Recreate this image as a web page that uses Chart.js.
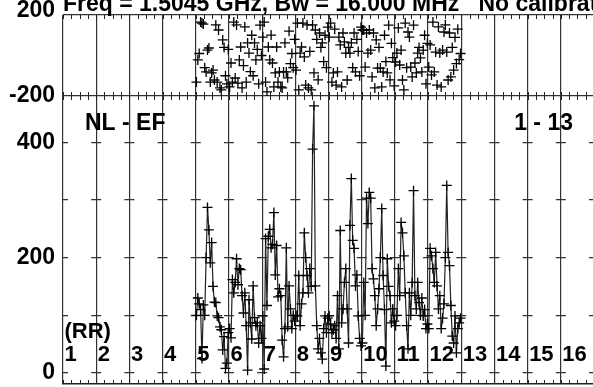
<!DOCTYPE html>
<html><head><meta charset="utf-8">
<script src="https://cdn.jsdelivr.net/npm/chart.js@4/dist/chart.umd.min.js"></script>
<style>
html,body{margin:0;padding:0;background:#fff;overflow:hidden;width:593px;height:387px}
#wrap{position:absolute;left:0;top:0;width:594px;height:387px}
</style></head>
<body><div id="wrap"><canvas id="c" width="594" height="387"></canvas></div>
<script>
// ---- data ----
const TITLE = 'Freq = 1.5045 GHz, Bw = 16.000 MHz   No calibration applied';
const BASELINE_LABEL = 'NL - EF';
const RANGE_LABEL = '1 - 13';
const POL_LABEL = '(RR)';
const IF_LABELS = ['1','2','3','4','5','6','7','8','9','10','11','12','13','14','15','16'];
const FIRST_IF = 5;
const CHANNELS = 24;
const MINOR_PER_IF = 4;
const AMP_TICKS = [0, 100, 200, 300, 400];
const AMP_LABELED = [0, 200, 400];
const PHASE_TICKS = [-200, 0, 200];

const ampIF5  = [100,130,120,110,25,118,100,200,287,248,191,226,150,123,122,99,96,80,75,40,63,8,17,70];
const ampIF6  = [77,61,162,139,157,198,153,181,179,134,104,139,82,5,127,87,59,151,96,82,87,52,82,60];
const ampIF7  = [99,7,233,117,237,249,217,223,278,170,221,132,146,134,57,28,77,217,80,151,111,77,100,90];
const ampIF8  = [100,99,169,82,120,139,243,200,169,139,181,150,388,463,151,82,42,60,35,24,77,99,70,95];
const ampIF9  = [99,85,70,75,82,60,134,42,247,87,111,157,181,111,52,256,337,230,216,151,170,99,60,47];
const ampIF10 = [52,157,100,303,259,313,303,181,163,134,82,111,146,200,285,169,110,12,198,150,134,87,111,90];
const ampIF11 = [82,100,181,134,261,243,203,139,82,42,139,100,157,316,134,111,157,122,100,130,99,110,77,85];
const ampIF12 = [77,216,203,181,157,209,151,111,134,77,95,120,200,325,209,186,117,64,52,99,35,77,87,95];

const phaseIF5  = [-131,-22,10,165,160,155,-60,-81,27,37,-131,-86,-72,-121,151,-131,126,-160,-170,77,40,-100,-140,30];
const phaseIF6  = [-155,-37,-131,165,-111,151,-136,-22,42,-160,-50,141,-131,62,12,-80,100,-100,62,-22,30,-140,150,0];
const phaseIF7  = [91,165,-131,-180,42,-22,101,-37,-155,-86,42,-131,-81,-155,-160,-81,62,-81,-110,120,-40,10,-60,80];
const phaseIF8  = [-72,160,-170,12,42,160,-7,-146,151,-160,20,-170,151,-86,126,80,-120,111,40,62,-30,100,-60,140];
const phaseIF9  = [91,160,-131,-86,130,-146,-81,91,52,-155,111,67,12,-121,40,12,62,-60,111,-81,80,20,-100,140];
const phaseIF10 = [126,126,-57,111,12,126,27,-106,111,-160,77,-62,40,-62,-155,-81,100,-30,-86,150,-120,60,-10,-150];
const phaseIF11 = [-32,12,136,-47,27,-121,-170,160,-60,116,91,-57,-106,150,-37,-86,12,40,-12,-81,27,100,-140,60];
const phaseIF12 = [-57,52,-96,165,-81,17,-146,141,12,-155,27,116,151,17,-121,111,-106,40,-72,90,-40,130,-20,10];

const ampByIF = [ampIF5, ampIF6, ampIF7, ampIF8, ampIF9, ampIF10, ampIF11, ampIF12];
const phaseByIF = [phaseIF5, phaseIF6, phaseIF7, phaseIF8, phaseIF9, phaseIF10, phaseIF11, phaseIF12];

function toPoints(list) {
  const pts = [];
  list.forEach((arr, k) => arr.forEach((v, ch) => {
    pts.push({x: (FIRST_IF - 1 + k) + (ch + 0.5) / CHANNELS, y: v});
  }));
  return pts;
}

const FONT = '"Liberation Sans", Arial, Helvetica, sans-serif';
const LEFT_W = 63;
const CANVAS_W = 594;
const BIN_W = (CANVAS_W - LEFT_W) / IF_LABELS.length;

function noPad(s) { s.paddingTop = 0; s.paddingBottom = 0; s.paddingLeft = 0; s.paddingRight = 0; }

const decor = {
  id: 'decor',
  afterDatasetsDraw(chart) {
    const {ctx, chartArea: a} = chart;
    const x = chart.scales.x, yAmp = chart.scales.yAmp, yPhase = chart.scales.yPhase;
    ctx.save();
    ctx.strokeStyle = '#222';
    ctx.lineWidth = 1;
    const sep = yPhase.bottom;
    ctx.beginPath();
    for (let q = 0; q <= IF_LABELS.length * MINOR_PER_IF; q++) {
      const px = Math.round(x.getPixelForValue(q / MINOR_PER_IF)) + 0.5;
      ctx.moveTo(px, a.top); ctx.lineTo(px, a.top + 4);
      ctx.moveTo(px, sep - 4); ctx.lineTo(px, sep + 4);
      ctx.moveTo(px, a.bottom - 4); ctx.lineTo(px, a.bottom);
    }
    ctx.stroke();

    ctx.fillStyle = '#000';
    ctx.textAlign = 'left';
    ctx.textBaseline = 'alphabetic';
    ctx.font = 'bold 22px ' + FONT;
    const base0 = yAmp.getPixelForValue(0);
    IF_LABELS.forEach((t, i) => ctx.fillText(t, x.getPixelForValue(i) + 1.5, base0 - 12));
    ctx.fillText(POL_LABEL, x.getPixelForValue(0) + 1.5, base0 - 35);

    ctx.font = 'bold 23px ' + FONT;
    ctx.fillText(BASELINE_LABEL, a.left + 22, sep + 33.5);
    ctx.textAlign = 'right';
    ctx.fillText(RANGE_LABEL, 573, sep + 33.5);

    ctx.textAlign = 'left';
    ctx.font = 'bold 23px ' + FONT;
    ctx.fillText(TITLE, a.left, 10.5);
    ctx.restore();
  }
};

new Chart(document.getElementById('c'), {
  type: 'scatter',
  data: {
    datasets: [
      {
        label: 'Amplitude',
        data: toPoints(ampByIF),
        yAxisID: 'yAmp',
        showLine: true,
        borderColor: '#222',
        borderWidth: 1.2,
        pointStyle: 'cross',
        pointRadius: 5,
        pointBorderColor: '#000',
        pointBorderWidth: 1.3,
        pointBackgroundColor: '#000',
        tension: 0
      },
      {
        label: 'Phase',
        data: toPoints(phaseByIF),
        yAxisID: 'yPhase',
        showLine: false,
        pointStyle: 'cross',
        pointRadius: 5,
        pointBorderColor: '#000',
        pointBorderWidth: 1.3,
        pointBackgroundColor: '#000'
      }
    ]
  },
  options: {
    responsive: false,
    animation: false,
    devicePixelRatio: 1,
    layout: {autoPadding: false, padding: {top: 15, left: 0, right: 0, bottom: 0}},
    plugins: {legend: {display: false}, tooltip: {enabled: false}, title: {display: false}},
    scales: {
      x: {
        type: 'linear', min: 0, max: IF_LABELS.length,
        afterBuildTicks: s => { s.ticks = IF_LABELS.map((t, i) => ({value: i})); },
        ticks: {display: false},
        grid: {color: '#333', lineWidth: 1.2, drawTicks: false},
        border: {display: true, color: '#222', width: 1.5},
        afterFit: s => { s.height = 3; noPad(s); }
      },
      yAmp: {
        type: 'linear', position: 'left', stack: 'v', stackWeight: 288,
        min: -19, max: 480,
        afterBuildTicks: s => { s.ticks = AMP_TICKS.map(v => ({value: v})); },
        ticks: {
          color: '#000', padding: 8,
          font: {family: FONT, size: 23, weight: 'bold'},
          callback: v => AMP_LABELED.includes(v) ? String(v) : ''
        },
        grid: {color: '#333', lineWidth: 1.2, drawTicks: false},
        border: {display: false, dash: [10, BIN_W - 10], dashOffset: 5},
        afterFit: s => { s.width = LEFT_W; noPad(s); }
      },
      yPhase: {
        type: 'linear', position: 'left', stack: 'v', stackWeight: 81,
        min: -200, max: 200,
        afterBuildTicks: s => { s.ticks = PHASE_TICKS.map(v => ({value: v})); },
        ticks: {
          color: '#000', padding: 8,
          font: {family: FONT, size: 23, weight: 'bold', lineHeight: 0.42},
          callback: v => v === 200 ? ['200', ''] : (v === -200 ? '-200' : '')
        },
        grid: {color: '#333', lineWidth: 1.2, drawTicks: false},
        border: {display: false},
        afterFit: s => { s.width = LEFT_W; noPad(s); }
      }
    }
  },
  plugins: [decor]
});
</script>
</body></html>
